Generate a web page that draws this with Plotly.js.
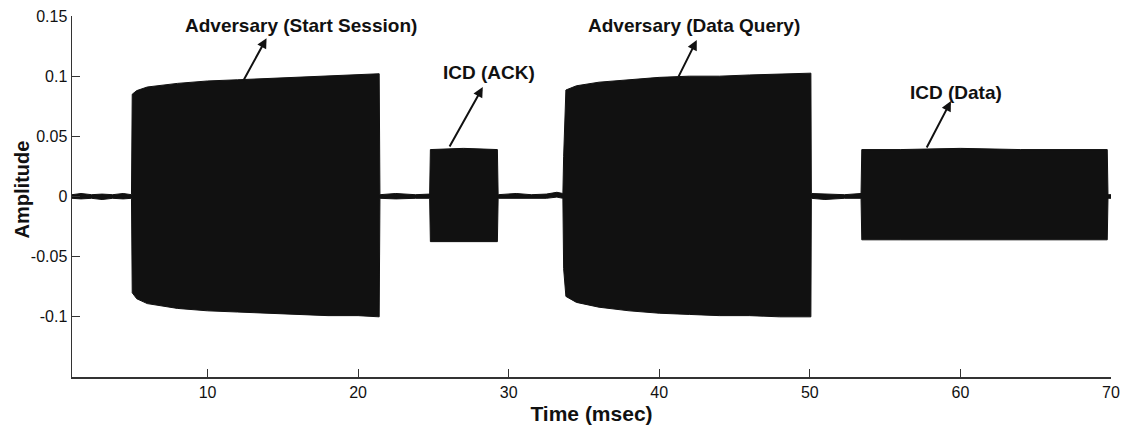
<!DOCTYPE html>
<html>
<head>
<meta charset="utf-8">
<script src="https://cdn.plot.ly/plotly-3.0.1.min.js"></script>
<style>
html,body{margin:0;padding:0;background:#fff;}
#chart{width:1125px;height:434px;}
</style>
</head>
<body>
<div id="chart"></div>
<script>
// Time axis (msec) of the signal envelope
const timeMs = [1.0, 1.6, 2.3, 3.0, 3.7, 4.4, 4.95, 5.0, 5.3, 6.0, 8.0, 10.0, 12.0, 14.0, 16.0, 18.0, 20.0, 21.4, 21.45, 22.5, 23.8, 24.75, 24.8, 27.0, 29.25, 29.3, 30.5, 31.5, 32.5, 33.2, 33.6, 33.65, 33.8, 34.5, 36.0, 38.0, 40.0, 42.0, 44.0, 46.0, 48.0, 50.07, 50.1, 51.0, 52.3, 53.4, 53.45, 56.0, 60.0, 64.0, 68.0, 69.75, 69.8, 70.0];
// Upper envelope of the amplitude
const upperEnv = [0.0015, 0.0025, 0.0015, 0.002, 0.0015, 0.0025, 0.0015, 0.085, 0.088, 0.091, 0.094, 0.096, 0.097, 0.098, 0.099, 0.100, 0.101, 0.102, 0.0015, 0.0025, 0.0015, 0.002, 0.039, 0.040, 0.039, 0.0015, 0.0025, 0.0015, 0.002, 0.0035, 0.0025, 0.033, 0.0885, 0.092, 0.095, 0.097, 0.099, 0.100, 0.100, 0.101, 0.102, 0.1025, 0.0025, 0.002, 0.0015, 0.0025, 0.039, 0.039, 0.040, 0.039, 0.039, 0.039, 0.0015, 0.0015];
// Lower envelope of the amplitude
const lowerEnv = [-0.0015, -0.002, -0.0015, -0.0025, -0.0015, -0.002, -0.0015, -0.080, -0.085, -0.089, -0.093, -0.095, -0.096, -0.097, -0.098, -0.099, -0.099, -0.100, -0.0015, -0.002, -0.0015, -0.0015, -0.0375, -0.0375, -0.0375, -0.0015, -0.0015, -0.002, -0.0015, -0.0005, -0.0015, -0.060, -0.083, -0.088, -0.092, -0.095, -0.097, -0.098, -0.099, -0.099, -0.100, -0.100, -0.0015, -0.0025, -0.0015, -0.0015, -0.036, -0.036, -0.036, -0.036, -0.036, -0.036, -0.0015, -0.0015];

const xTicks = [10, 20, 30, 40, 50, 60, 70];
const yTicks = [-0.1, -0.05, 0, 0.05, 0.1, 0.15];
const yTickText = ['-0.1', '-0.05', '0', '0.05', '0.1', '0.15'];

const labels = ['Adversary (Start Session)', 'ICD (ACK)', 'Adversary (Data Query)', 'ICD (Data)'];
const yTitle = 'Amplitude';

const font = 'Arial, "Liberation Sans", Helvetica, sans-serif';

const traces = [
  {x: timeMs, y: lowerEnv, type: 'scatter', mode: 'lines',
   line: {color: '#111', width: 1}, hoverinfo: 'skip', showlegend: false},
  {x: timeMs, y: upperEnv, type: 'scatter', mode: 'lines', fill: 'tonexty', fillcolor: '#111',
   line: {color: '#111', width: 1}, hoverinfo: 'skip', showlegend: false}
];

function txt(x, y, s){
  return {x: x, y: y, xref: 'x', yref: 'y', text: '<b>' + s + '</b>', showarrow: false,
          font: {family: font, size: 19, color: '#111'}, xanchor: 'center', yanchor: 'middle'};
}
function arr(x, y, ax, ay){
  return {x: x, y: y, ax: ax, ay: ay, xref: 'x', yref: 'y', axref: 'x', ayref: 'y', text: '',
          showarrow: true, arrowhead: 2, arrowsize: 1, arrowwidth: 2, arrowcolor: '#111', standoff: 0, startstandoff: 0};
}

const layout = {
  width: 1125, height: 434,
  margin: {l: 72, r: 14, t: 16, b: 57},
  paper_bgcolor: '#fff', plot_bgcolor: '#fff',
  font: {family: font, size: 16, color: '#111'},
  showlegend: false,
  xaxis: {range: [1, 70], tickvals: xTicks, ticks: 'inside', ticklen: 8, tickcolor: '#333',
          showline: true, linecolor: '#333', linewidth: 1.5, showgrid: false, zeroline: false,
          tickfont: {family: font, size: 16, color: '#111'},
          title: {text: '<b>Time (msec)</b>', font: {family: font, size: 21, color: '#111'}, standoff: 6}},
  yaxis: {range: [-0.15, 0.15], tickvals: yTicks, ticktext: yTickText, ticks: 'inside', ticklen: 8, tickcolor: '#333',
          showline: true, linecolor: '#333', linewidth: 1.5, showgrid: false, zeroline: false,
          tickfont: {family: font, size: 16, color: '#111'}},
  annotations: [
    {x: -0.048, y: 0.52, xref: 'paper', yref: 'paper', text: '<b>' + yTitle + '</b>', textangle: -90,
     showarrow: false, xanchor: 'center', yanchor: 'middle', font: {family: font, size: 20, color: '#111'}},
    txt(16.2, 0.1424, labels[0]),
    txt(28.67, 0.1034, labels[1]),
    txt(42.3, 0.1424, labels[2]),
    txt(59.7, 0.0868, labels[3]),
    arr(13.92, 0.1316, 12.33, 0.0951),
    arr(28.28, 0.0909, 26.02, 0.0403),
    arr(42.49, 0.130, 41.23, 0.0984),
    arr(59.37, 0.0793, 57.71, 0.0395)
  ]
};

Plotly.newPlot('chart', traces, layout, {displayModeBar: false, staticPlot: true});
</script>
</body>
</html>
